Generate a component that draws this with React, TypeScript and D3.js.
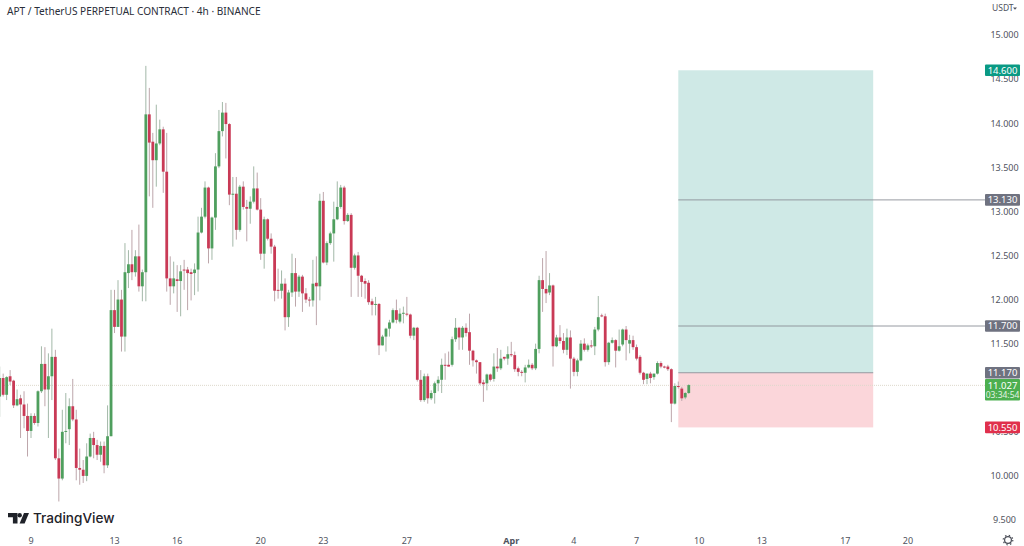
import React from 'react';
import * as d3 from 'd3';

const width = 1024;
const height = 546;

// 4h candles, first one is 7 Mar 12:00
const firstCandle = Date.UTC(2023, 2, 7, 12);
const candleMs = 4 * 3600 * 1000;

const opens = [
  10.90,11.11,10.92,11.13,11.08,10.80,10.88,10.81,10.68,10.51,
  10.68,10.60,10.96,11.27,10.98,11.13,11.35,10.20,9.97,10.50,
  10.53,10.79,10.64,10.09,10.07,10.00,10.22,10.43,10.35,10.24,
  10.34,10.12,10.45,11.88,11.69,12.00,11.58,12.30,12.40,12.31,
  12.49,12.15,12.31,14.10,13.79,13.58,13.77,13.93,13.45,12.24,
  12.15,12.23,12.21,12.34,12.34,12.31,12.30,12.34,12.76,12.94,
  13.27,12.58,12.93,13.51,13.91,14.12,13.99,13.19,13.20,12.79,
  13.28,13.05,13.03,13.11,13.26,13.02,12.52,12.91,12.69,12.60,
  12.11,12.10,12.18,11.80,12.08,12.30,12.09,12.26,12.07,12.00,
  11.99,12.19,12.15,13.12,12.42,12.64,12.75,12.91,13.05,13.27,
  12.89,12.96,12.36,12.50,12.27,12.21,12.19,11.98,11.94,11.95,
  11.48,11.58,11.67,11.74,11.88,11.75,11.84,11.84,11.83,11.59,
  11.68,11.09,10.86,11.13,10.88,10.94,11.05,11.09,11.26,11.26,
  11.26,11.55,11.68,11.57,11.68,11.63,11.42,11.31,11.29,11.06,
  11.05,11.15,11.10,11.24,11.22,11.35,11.33,11.38,11.37,11.22,
  11.18,11.17,11.23,11.26,11.22,11.44,12.22,12.12,12.08,12.16,
  11.47,11.57,11.53,11.43,11.57,11.33,11.18,11.31,11.50,11.43,
  11.48,11.47,11.66,11.82,11.81,11.29,11.51,11.54,11.42,11.49,
  11.66,11.50,11.54,11.46,11.35,11.17,11.10,11.16,11.12,11.16,
  11.28,11.24,11.24,11.21,10.82,11.02,10.99,10.89,10.94,
];
const closes = [
  11.11,10.92,11.12,11.07,10.80,10.87,10.81,10.68,10.51,10.68,
  10.60,10.96,11.27,10.98,11.13,11.35,10.20,9.97,10.50,10.51,
  10.79,10.64,10.09,10.07,10.00,10.22,10.43,10.35,10.24,10.34,
  10.12,10.45,11.88,11.69,12.00,11.58,12.31,12.40,12.31,12.49,
  12.15,12.31,14.10,13.78,13.58,13.77,13.93,13.45,12.24,12.15,
  12.24,12.21,12.32,12.33,12.30,12.29,12.34,12.76,12.94,13.27,
  12.58,12.93,13.51,13.91,14.12,13.99,13.19,13.20,12.79,13.28,
  13.05,13.03,13.11,13.26,13.02,12.52,12.91,12.69,12.60,12.10,
  12.10,12.18,11.80,12.08,12.30,12.09,12.26,12.07,12.00,11.99,
  12.18,12.15,13.12,12.42,12.64,12.75,12.91,13.05,13.27,12.89,
  12.96,12.36,12.50,12.27,12.20,12.18,11.97,11.94,11.95,11.48,
  11.58,11.67,11.74,11.88,11.77,11.84,11.85,11.83,11.59,11.68,
  11.09,10.86,11.13,10.88,10.94,11.05,11.09,11.26,11.25,11.24,
  11.55,11.68,11.57,11.68,11.62,11.42,11.31,11.29,11.05,11.04,
  11.15,11.09,11.24,11.22,11.33,11.33,11.38,11.37,11.21,11.18,
  11.17,11.23,11.26,11.22,11.44,12.22,12.12,12.07,12.16,11.47,
  11.57,11.53,11.43,11.57,11.33,11.18,11.31,11.50,11.43,11.48,
  11.47,11.66,11.80,11.81,11.29,11.51,11.54,11.42,11.47,11.66,
  11.54,11.54,11.46,11.33,11.17,11.09,11.16,11.11,11.16,11.28,
  11.24,11.23,11.21,10.82,11.02,11.01,10.88,10.94,11.03,
];
const highs = [
  11.24,11.16,11.13,11.20,11.09,10.98,10.92,10.96,10.82,10.71,
  10.71,10.97,11.47,11.46,11.39,11.67,11.43,10.31,10.75,10.94,
  10.88,11.10,10.75,10.31,10.18,10.37,10.48,10.50,10.41,10.39,
  10.39,10.80,12.11,12.11,12.22,12.11,12.64,12.56,12.79,12.56,
  12.85,12.34,14.65,14.40,13.89,14.21,14.04,13.96,13.89,12.49,
  12.43,12.39,12.39,12.45,12.37,12.35,12.41,12.94,13.04,13.34,
  13.28,12.94,13.66,14.15,14.24,14.23,14.00,13.39,13.39,13.30,
  13.34,13.13,13.17,13.51,13.44,13.15,12.94,12.92,12.75,12.62,
  12.35,12.33,12.24,12.11,12.52,12.47,12.28,12.28,12.13,12.03,
  12.45,12.49,13.20,13.22,12.66,12.77,13.11,13.34,13.30,13.29,
  12.98,12.98,12.52,12.54,12.28,12.24,12.22,12.01,12.03,11.96,
  11.60,11.68,11.77,11.90,12.00,11.90,11.92,12.03,11.84,11.69,
  11.69,11.20,11.16,11.16,10.97,11.07,11.13,11.33,11.39,11.41,
  11.58,11.79,11.69,11.70,11.73,11.84,11.43,11.32,11.29,11.09,
  11.16,11.16,11.39,11.45,11.43,11.35,11.47,11.52,11.41,11.24,
  11.20,11.26,11.32,11.28,11.50,12.27,12.47,12.55,12.30,12.17,
  11.60,11.71,11.62,11.67,11.65,11.35,11.33,11.54,11.56,11.50,
  11.54,11.69,12.04,11.84,11.84,11.52,11.57,11.55,11.66,11.67,
  11.70,11.60,11.59,11.49,11.37,11.18,11.16,11.18,11.16,11.30,
  11.30,11.25,11.26,11.22,11.05,11.07,11.01,10.95,11.04,
];
const lows = [
  10.67,10.90,10.86,11.03,10.77,10.79,10.43,10.54,10.22,10.43,
  10.58,10.56,10.94,10.79,10.43,10.86,10.18,9.71,9.95,10.37,
  10.35,10.62,9.95,9.90,9.92,9.94,10.21,10.20,10.18,10.16,
  10.03,10.09,10.45,11.62,11.69,11.41,11.41,12.13,12.22,12.26,
  12.09,11.98,11.98,13.17,13.04,13.28,13.75,13.21,12.09,11.94,
  12.07,11.86,11.81,12.11,11.88,11.99,12.05,12.09,12.75,12.92,
  12.41,12.45,12.79,13.49,13.85,13.60,13.07,12.60,12.68,12.77,
  13.02,12.66,12.86,13.09,13.01,12.45,12.35,12.67,12.52,11.98,
  12.01,12.01,11.65,11.69,12.03,11.92,12.03,11.86,11.96,11.92,
  11.92,11.71,11.99,12.41,12.39,12.62,12.43,12.90,13.03,12.85,
  12.88,12.03,12.34,12.03,12.03,12.01,11.94,11.82,11.82,11.37,
  11.48,11.41,11.58,11.73,11.73,11.73,11.73,11.81,11.56,11.54,
  11.07,10.84,10.84,10.82,10.86,10.82,10.96,10.94,11.09,11.24,
  11.24,11.52,11.43,11.43,11.58,11.26,11.24,11.16,11.03,10.84,
  10.97,11.07,11.07,11.18,11.20,11.31,11.26,11.35,11.18,11.13,
  11.13,11.06,11.22,11.20,11.20,11.39,11.86,11.96,12.05,11.24,
  11.46,11.50,11.39,11.37,10.99,11.13,11.13,11.30,11.41,11.41,
  11.45,11.37,11.64,11.80,11.24,11.26,11.50,11.23,11.41,11.47,
  11.31,11.39,11.43,11.31,11.15,11.04,11.04,11.05,11.09,11.15,
  11.22,11.22,11.19,10.61,10.81,10.99,10.85,10.87,10.93,
];

// 11.000 sits fully behind the last price tag in the picture
const priceTicks = [15, 14.5, 14, 13.5, 13, 12.5, 12, 11.5, 10.5, 10, 9.5];
const dateTicks = [
  Date.UTC(2023, 2, 9), Date.UTC(2023, 2, 13), Date.UTC(2023, 2, 16), Date.UTC(2023, 2, 20),
  Date.UTC(2023, 2, 23), Date.UTC(2023, 2, 27), Date.UTC(2023, 3, 1), Date.UTC(2023, 3, 4),
  Date.UTC(2023, 3, 7), Date.UTC(2023, 3, 10), Date.UTC(2023, 3, 13), Date.UTC(2023, 3, 17),
  Date.UTC(2023, 3, 20),
];

// long position tool
const targetPrice = 14.6;
const entryPrice = 11.17;
const stopPrice = 10.55;
const toolStart = Date.UTC(2023, 3, 9);
const toolEnd = Date.UTC(2023, 3, 18, 8);
const levelPrices = [13.13, 11.7];
const lastPrice = 11.027;
const countdown = '03:34:54';

const UP = '#4f9f5e';
const DOWN = '#c93a56';
const UP_WICK = '#a3b8a8';
const DOWN_WICK = '#bda6ab';
const fontFamily = '"Noto Sans", "Open Sans", sans-serif';

const y = d3.scaleLinear().domain([15, 9.5]).range([35, 520]);
const x = d3.scaleUtc().domain([dateTicks[0], dateTicks[12]]).range([31, 908]);
const fmt = d3.format('.3f');

const PriceTag = ({ price, fill }: { price: number; fill: string }) => (
  <g>
    <rect x={985} y={y(price) - 5.8} width={35} height={11.6} rx={1} fill={fill} />
    <text x={1002.5} y={y(price) + 3.4} textAnchor="middle" fontSize={9.5} fill="#fff">
      {fmt(price)}
    </text>
  </g>
);

export default function App() {
  const candles = opens.map((open, i) => ({
    t: firstCandle + i * candleMs,
    open,
    close: closes[i],
    high: highs[i],
    low: lows[i],
  }));
  const bodyW = 2.8;

  return (
    <svg
      width={width}
      height={height}
      style={{ position: 'fixed', left: 0, top: 0, background: '#fff' }}
      fontFamily={fontFamily}
    >
      {/* position tool */}
      <rect x={x(toolStart)} y={y(targetPrice)} width={x(toolEnd) - x(toolStart)} height={y(entryPrice) - y(targetPrice)} fill="#cfe9e6" />
      <rect x={x(toolStart)} y={y(entryPrice)} width={x(toolEnd) - x(toolStart)} height={y(stopPrice) - y(entryPrice)} fill="#fbd6da" />
      <line x1={x(toolStart)} x2={x(toolEnd)} y1={y(entryPrice)} y2={y(entryPrice)} stroke="#8b8e96" strokeWidth={0.9} />
      {levelPrices.map((p) => (
        <line key={p} x1={x(toolStart)} x2={985} y1={y(p)} y2={y(p)} stroke="#8b8e96" strokeWidth={0.9} />
      ))}

      {/* last price line */}
      <line x1={0} x2={985} y1={y(lastPrice)} y2={y(lastPrice)} stroke="#ddd9cc" strokeWidth={1} strokeDasharray="1 1" />

      {/* candles */}
      {candles.map((d) => {
        const isUp = d.close >= d.open;
        const cx = x(d.t);
        const top = y(Math.max(d.open, d.close));
        const bottom = y(Math.min(d.open, d.close));
        return (
          <g key={d.t}>
            <line x1={cx} x2={cx} y1={y(d.high)} y2={y(d.low)} stroke={isUp ? UP_WICK : DOWN_WICK} strokeWidth={1} />
            <rect x={cx - bodyW / 2} y={top} width={bodyW} height={Math.max(bottom - top, 1)} fill={isUp ? UP : DOWN} />
          </g>
        );
      })}

      {/* title */}
      <text x={7} y={15} fontSize={10.1} fill="#2a2e39">
        APT / TetherUS PERPETUAL CONTRACT · 4h · BINANCE
      </text>

      {/* price axis */}
      <text x={992} y={11} fontSize={8.5} fill="#50535e">USDT</text>
      <path d="M1013 7.5h4l-2 2.2z" fill="#50535e" />
      {priceTicks.map((p) => (
        <text key={p} x={1004.5} y={y(p) + 3.4} textAnchor="middle" fontSize={9} fill="#50535e">
          {fmt(p)}
        </text>
      ))}
      <PriceTag price={targetPrice} fill="#0a9a84" />
      <PriceTag price={levelPrices[0]} fill="#6f7280" />
      <PriceTag price={levelPrices[1]} fill="#6f7280" />
      <PriceTag price={entryPrice} fill="#6f7280" />
      <PriceTag price={stopPrice} fill="#e0304c" />
      <rect x={985} y={379} width={35} height={21.5} rx={1} fill="#4caf50" />
      <text x={1002.5} y={388.5} textAnchor="middle" fontSize={9.5} fill="#fff">{fmt(lastPrice)}</text>
      <text x={1002.5} y={398} textAnchor="middle" fontSize={8.5} fill="#e3f3e4">{countdown}</text>

      {/* time axis */}
      {dateTicks.map((t) => {
        const d = new Date(t);
        const isMonth = d.getUTCDate() === 1;
        return (
          <text
            key={t}
            x={x(t)}
            y={544}
            textAnchor="middle"
            fontSize={9}
            fontWeight={isMonth ? 700 : 400}
            fill="#50535e"
          >
            {isMonth ? d3.utcFormat('%b')(d) : d.getUTCDate()}
          </text>
        );
      })}

      {/* gear */}
      <circle cx={1008} cy={540} r={3.4} fill="none" stroke="#4a4d57" strokeWidth={1.2} />
      <circle cx={1008} cy={540} r={4.8} fill="none" stroke="#4a4d57" strokeWidth={1.2} strokeDasharray="1.4 2.4" />

      {/* logo */}
      <path d="M8 513h9.5v10.5h-4.6v-6.2H8z" fill="#1f2229" />
      <circle cx={19.7} cy={515.3} r={2.2} fill="#1f2229" />
      <path d="M24 513h5l-4.4 10.5h-5z" fill="#1f2229" />
      <text x={33} y={523} fontFamily="Inter, Roboto, sans-serif" fontSize={13.6} fontWeight={500} fill="#1f2229">
        TradingView
      </text>
    </svg>
  );
}
